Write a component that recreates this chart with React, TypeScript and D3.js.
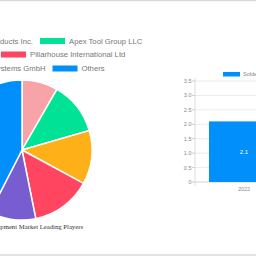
import React, { useEffect, useRef } from "react";
import * as d3 from "d3";

// pie: market share of leading players (clockwise from 12 o'clock)
const players = [
  "American Hakko Products Inc.",
  "Apex Tool Group LLC",
  "Kurtz Ersa Corporation",
  "Pillarhouse International Ltd",
  "SEHO Systems GmbH",
  "Others",
];
const shares = [8.3, 12.2, 12.4, 13.9, 10.7, 42.4];
const pieColors = ["#F8A3A8", "#00E396", "#FEB019", "#FF4560", "#775DD0", "#008FFB"];

// bar: market size
const years = ["2022"];
const sizes = [2.1];
const yTicks = [0, 0.5, 1.0, 1.5, 2.0, 2.5, 3.0, 3.5];

const App = () => {
  const svgRef = useRef<SVGSVGElement>(null);

  useEffect(() => {
    const svg = d3.select(svgRef.current);
    svg.selectAll("*").remove();

    // card borders
    svg.append("line").attr("x1", 0).attr("x2", 256).attr("y1", 0.5).attr("y2", 0.5)
      .attr("stroke", "#d8d8d8").attr("stroke-width", 1.5);
    svg.append("line").attr("x1", 0).attr("x2", 256).attr("y1", 255).attr("y2", 255)
      .attr("stroke", "#d8d8d8").attr("stroke-width", 1.5);

    // ---- pie ----
    const cx = 22, cy = 150, r = 70;
    const pie = d3.pie<number>().sort(null).value((d) => d);
    const arc = d3.arc<d3.PieArcDatum<number>>().innerRadius(0).outerRadius(r);
    const pg = svg.append("g").attr("transform", `translate(${cx},${cy})`);
    pg.selectAll("path")
      .data(pie(shares))
      .enter()
      .append("path")
      .attr("d", arc)
      .attr("fill", (_, i) => pieColors[i])
      .attr("stroke", "#fff")
      .attr("stroke-width", 1.5);

    // pie legend, two columns
    const legend = svg.append("g").style("font-family", "Liberation Sans, Arial, sans-serif")
      .style("font-size", "7.7px");
    const rowY = [41, 54.5, 68.5];
    const col1End = [33, -6, 45.5];
    players.forEach((name, i) => {
      const row = Math.floor(i / 2);
      const y = rowY[row];
      if (i % 2 === 0) {
        const t = legend.append("text").attr("x", col1End[row]).attr("y", y + 2.8)
          .attr("text-anchor", "end").attr("fill", "#777").text(name);
        const w = (t.node() as SVGTextElement).getComputedTextLength();
        legend.append("rect").attr("x", col1End[row] - w - 29).attr("y", y - 3)
          .attr("width", 25).attr("height", 6).attr("fill", pieColors[i]);
      } else {
        const sx = col1End[row] + 7;
        legend.append("rect").attr("x", sx).attr("y", y - 3)
          .attr("width", 25).attr("height", 6).attr("fill", pieColors[i]);
        legend.append("text").attr("x", sx + 29).attr("y", y + 2.8)
          .attr("fill", "#777").text(name);
      }
    });

    svg.append("text")
      .attr("x", 83).attr("y", 229)
      .attr("text-anchor", "end")
      .style("font-family", "Liberation Serif, Times New Roman, serif")
      .style("font-size", "6.7px")
      .attr("fill", "#333")
      .text("Soldering Equipment Market Leading Players");

    // ---- bar ----
    const x0 = 195, yBottom = 182, yTop = 81;
    const x = d3.scaleBand().domain(years).range([x0, 293]).padding(0.1667);
    const y = d3.scaleLinear().domain([0, 3.5]).range([yBottom, yTop]);

    const bg = svg.append("g").style("font-family", "Liberation Sans, Arial, sans-serif");
    bg.selectAll(".grid")
      .data(yTicks)
      .enter()
      .append("line")
      .attr("x1", x0).attr("x2", 300)
      .attr("y1", (d) => y(d)).attr("y2", (d) => y(d))
      .attr("stroke", "#ececec");
    bg.selectAll(".tick")
      .data(yTicks)
      .enter()
      .append("line")
      .attr("x1", x0 - 3).attr("x2", x0)
      .attr("y1", (d) => y(d)).attr("y2", (d) => y(d))
      .attr("stroke", "#ccc");
    bg.selectAll(".ylab")
      .data(yTicks)
      .enter()
      .append("text")
      .attr("x", 191.5)
      .attr("y", (d) => y(d) + 2)
      .attr("text-anchor", "end")
      .style("font-size", "5.5px")
      .attr("fill", "#888")
      .text((d) => (d === 0 ? "0" : d.toFixed(1)));
    bg.append("line").attr("x1", x0).attr("x2", x0).attr("y1", yTop - 3).attr("y2", yBottom + 4)
      .attr("stroke", "#ddd");
    bg.append("line").attr("x1", x0).attr("x2", 300).attr("y1", yBottom).attr("y2", yBottom)
      .attr("stroke", "#ddd");

    bg.selectAll(".bar")
      .data(sizes)
      .enter()
      .append("rect")
      .attr("x", (_, i) => x(years[i])!)
      .attr("width", x.bandwidth())
      .attr("y", (d) => y(d))
      .attr("height", (d) => y(0) - y(d))
      .attr("fill", "#008FFB");
    bg.selectAll(".blab")
      .data(sizes)
      .enter()
      .append("text")
      .attr("x", (_, i) => x(years[i])! + x.bandwidth() / 2)
      .attr("y", (d) => (y(d) + y(0)) / 2 + 2)
      .attr("text-anchor", "middle")
      .style("font-size", "6px")
      .attr("fill", "#fff")
      .text((d) => d.toFixed(1));
    bg.selectAll(".xlab")
      .data(years)
      .enter()
      .append("text")
      .attr("x", (d) => x(d)! + x.bandwidth() / 2)
      .attr("y", 190.5)
      .attr("text-anchor", "middle")
      .style("font-size", "5.5px")
      .attr("fill", "#888")
      .text((d) => d);

    // bar legend
    bg.append("rect").attr("x", 223).attr("y", 72).attr("width", 17).attr("height", 4.5)
      .attr("fill", "#008FFB");
    bg.append("text").attr("x", 243).attr("y", 76).style("font-size", "5.5px")
      .attr("fill", "#888").text("Soldering Equipment Market Size");
  }, []);

  return (
    <svg
      ref={svgRef}
      width={256}
      height={256}
      style={{ position: "absolute", left: 0, top: 0, background: "#fff" }}
    />
  );
};

export default App;
